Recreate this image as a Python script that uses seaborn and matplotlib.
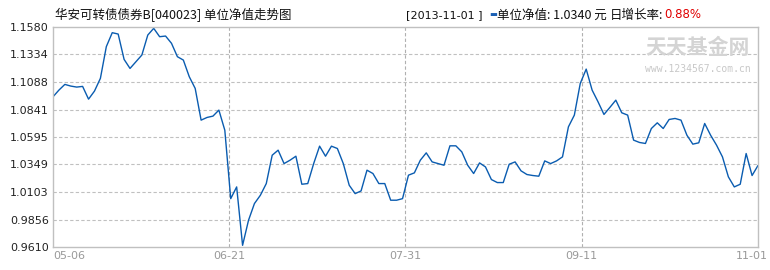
import numpy as np
import pandas as pd
import matplotlib
matplotlib.use("Agg")
import matplotlib.pyplot as plt
import matplotlib.transforms as mtrans
import seaborn as sns

# ---- data ----
nav = [1.0955, 1.1015, 1.1066, 1.1051, 1.1042, 1.1048, 1.0934, 1.1006, 1.1120, 1.1404,
       1.1529, 1.1517, 1.1290, 1.1209, 1.1269, 1.1329, 1.1508, 1.1568, 1.1493, 1.1499,
       1.1434, 1.1314, 1.1284, 1.1135, 1.1030, 1.0746, 1.0770, 1.0782, 1.0836, 1.0656,
       1.0043, 1.0148, 0.9625, 0.9849, 0.9999, 1.0073, 1.0178, 1.0432, 1.0477, 1.0357,
       1.0387, 1.0423, 1.0172, 1.0178, 1.0357, 1.0513, 1.0423, 1.0513, 1.0492, 1.0357,
       1.0163, 1.0088, 1.0112, 1.0298, 1.0268, 1.0178, 1.0178, 1.0029, 1.0029, 1.0043,
       1.0253, 1.0274, 1.0387, 1.0453, 1.0372, 1.0357, 1.0342, 1.0516, 1.0516, 1.0462,
       1.0342, 1.0268, 1.0363, 1.0327, 1.0214, 1.0187, 1.0187, 1.0351, 1.0372, 1.0292,
       1.0259, 1.0250, 1.0244, 1.0381, 1.0357, 1.0381, 1.0417, 1.0686, 1.0791, 1.1075,
       1.1203, 1.1015, 1.0910, 1.0797, 1.0860, 1.0925, 1.0812, 1.0791, 1.0567, 1.0546,
       1.0537, 1.0671, 1.0722, 1.0671, 1.0752, 1.0761, 1.0746, 1.0611, 1.0531, 1.0543,
       1.0716, 1.0611, 1.0522, 1.0417, 1.0238, 1.0148, 1.0172, 1.0447, 1.0250, 1.0340]
x_labels = ["05-06", "06-21", "07-31", "09-11", "11-01"]
y_ticks = [0.9610, 0.9856, 1.0103, 1.0349, 1.0595, 1.0841, 1.1088, 1.1334, 1.1580]
title = "华安可转债债券B[040023] 单位净值走势图"
date_str = "[2013-11-01 ]"
nav_label = "单位净值: 1.0340 元"
change_label = "日增长率:"
daily_change = "0.88%"

df = pd.DataFrame({"idx": np.arange(len(nav)), "nav": nav})

sns.set_theme(style="white")
plt.rcParams["font.family"] = ["Noto Sans CJK SC", "DejaVu Sans"]

fig = plt.figure(figsize=(7.7, 2.7), dpi=100)
ax = fig.add_axes([53 / 770, 1 - 247 / 270, 705 / 770, 220 / 270])

sns.lineplot(data=df, x="idx", y="nav", ax=ax, color="#0a5cb0", linewidth=1.0)

n = len(nav) - 1
xt = [n * k / 4 for k in range(5)]
ax.set_xlim(0, n)
ax.set_ylim(y_ticks[0], y_ticks[-1])
ax.set_yticks(y_ticks)
ax.set_yticklabels([f"{v:.4f}" for v in y_ticks], fontsize=8, color="#222222",
                   family="DejaVu Sans")
ax.set_xticks(xt)
ax.set_xticklabels(x_labels, fontsize=8, color="#999999", family="DejaVu Sans")
ax.tick_params(axis="both", length=0, pad=3)
lbls = ax.get_xticklabels()
lbls[0].set_horizontalalignment("left")
lbls[-1].set_transform(lbls[-1].get_transform() +
                       mtrans.ScaledTranslation(-6 / 100, 0, fig.dpi_scale_trans))
ax.set_xlabel("")
ax.set_ylabel("")

for v in y_ticks[1:-1]:
    ax.axhline(v, color="#c0c0c0", linestyle=(0, (3, 2)), linewidth=0.8, zorder=0)
for v in xt[1:-1]:
    ax.axvline(v, color="#b0b0b0", linestyle=(0, (3, 2)), linewidth=0.8, zorder=0)
for s in ax.spines.values():
    s.set_color("#c0c0c0")
    s.set_linewidth(1.0)

# watermark
ax.text(0.915, 0.905, "天天基金网", transform=ax.transAxes, ha="center", va="center",
        fontsize=15, color="#d4d4d4", fontweight="bold", zorder=0)
ax.text(0.915, 0.81, "www.1234567.com.cn", transform=ax.transAxes, ha="center",
        va="center", fontsize=7, color="#c8c8c8", zorder=0, family="DejaVu Sans Mono")

# header texts
ty = 1 - 15 / 270
fig.text(55 / 770, ty, title, fontsize=9, color="#111111", va="center")
fig.text(406 / 770, ty, date_str, fontsize=8, color="#111111", va="center",
         family="DejaVu Sans")
fig.text(489 / 770, ty, "▬", fontsize=6, color="#1a5fb4", va="center",
         family="DejaVu Sans")
fig.text(497 / 770, ty, nav_label, fontsize=9, color="#111111", va="center")
fig.text(663 / 770, ty, change_label, fontsize=9, color="#111111", va="center",
         ha="right")
fig.text(664 / 770, ty, daily_change, fontsize=8.5, color="#e00000", va="center",
         family="DejaVu Sans")

fig.savefig("out.png", dpi=100)
